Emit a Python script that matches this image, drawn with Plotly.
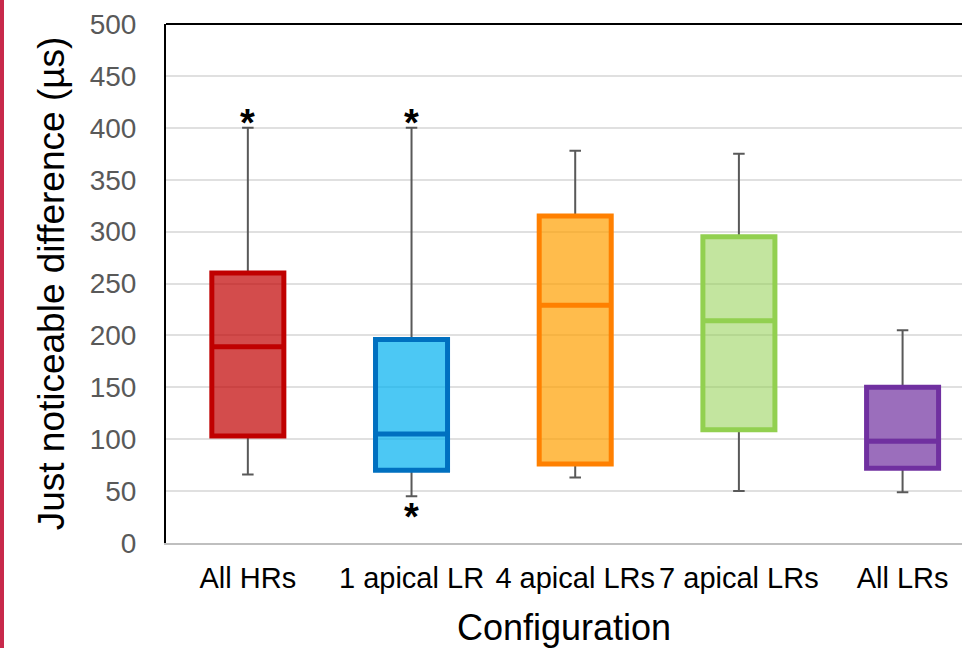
import plotly.graph_objects as go

categories = ["All HRs", "1 apical LR", "4 apical LRs", "7 apical LRs", "All LRs"]
lower_whisker = [66, 45, 63, 50, 49]
q1_values = [103, 70, 76, 109, 72]
median_values = [189, 105, 229, 214, 98]
q3_values = [260, 196, 315, 295, 150]
upper_whisker = [400, 400, 378, 375, 205]
line_colors = ["#C00000", "#0070C0", "#FF8000", "#92D050", "#7030A0"]
fill_colors = ["rgba(192,0,0,0.7)", "rgba(0,176,240,0.7)", "rgba(255,160,0,0.7)",
               "rgba(146,208,80,0.55)", "rgba(112,48,160,0.7)"]
# significance markers: (category index, anchor value, position)
stars = [(0, 400, "above"), (1, 400, "above"), (1, 45, "below")]

FONT = "Liberation Sans, Arial, sans-serif"
fig = go.Figure()

# whiskers (gray)
fig.add_trace(go.Box(
    x=categories, q1=q1_values, median=median_values, q3=q3_values,
    lowerfence=lower_whisker, upperfence=upper_whisker,
    line=dict(color="#595959", width=2), fillcolor="rgba(0,0,0,0)",
    width=0.44, whiskerwidth=0.16, boxpoints=False, hoverinfo="skip",
    showlegend=False,
))

# colored boxes
for i, cat in enumerate(categories):
    fig.add_trace(go.Box(
        x=[cat], q1=[q1_values[i]], median=[median_values[i]], q3=[q3_values[i]],
        lowerfence=[q1_values[i]], upperfence=[q3_values[i]],
        line=dict(color=line_colors[i], width=5), fillcolor=fill_colors[i],
        width=0.44, whiskerwidth=0, boxpoints=False, showlegend=False,
        name=cat,
    ))

for ci, val, pos in stars:
    fig.add_annotation(
        x=categories[ci], y=val, text="<b>*</b>", showarrow=False,
        font=dict(family=FONT, size=38, color="black"),
        yanchor="bottom" if pos == "above" else "top",
        yshift=-18 if pos == "above" else 2,
    )

W, H = 962, 648
ml, mr, mt, mb = 166, 0, 24, 105
pw, ph = W - ml - mr, H - mt - mb

shapes = [
    dict(type="line", xref="paper", yref="paper", x0=0, x1=1, y0=1, y1=1,
         line=dict(color="black", width=2)),
    dict(type="rect", xref="paper", yref="paper",
         x0=(0 - ml) / pw, x1=(4 - ml) / pw, y0=-mb / ph - 0.05,
         y1=1 + mt / ph + 0.05, fillcolor="#C8294B", line=dict(width=0), layer="above"),
]

fig.update_layout(
    width=W, height=H,
    margin=dict(l=ml, r=mr, t=mt, b=mb),
    paper_bgcolor="white", plot_bgcolor="white",
    boxmode="overlay",
    font=dict(family=FONT),
    shapes=shapes,
    xaxis=dict(
        type="category", range=[-0.5, 4.363],
        showline=True, linecolor="#BFBFBF", linewidth=2,
        showgrid=False, ticks="", ticklabelstandoff=8,
        tickfont=dict(family=FONT, size=29, color="black"),
        title=dict(text="Configuration", font=dict(family=FONT, size=36, color="black"), standoff=22),
    ),
    yaxis=dict(
        range=[0, 500], dtick=50, tick0=0,
        showline=True, linecolor="black", linewidth=2,
        showgrid=True, gridcolor="#E0E0E0", gridwidth=1.5, zeroline=False,
        ticks="", ticklabelstandoff=22,
        tickfont=dict(family=FONT, size=28, color="#595959"),
        title=dict(text="Just noticeable difference (µs)", font=dict(family=FONT, size=37, color="black"), standoff=14),
    ),
)

fig.write_html("out.html")
